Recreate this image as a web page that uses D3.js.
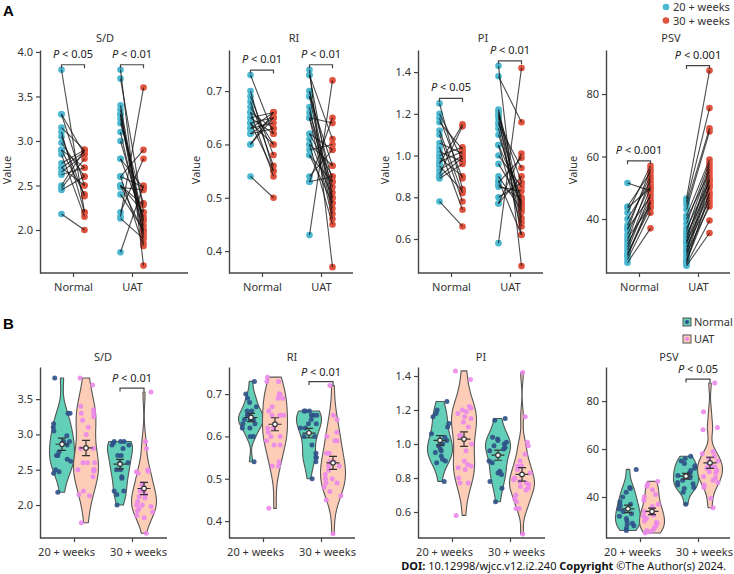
<!DOCTYPE html>
<html><head><meta charset="utf-8">
<script src="https://cdn.jsdelivr.net/npm/d3@7"></script>
<style>body{margin:0;background:#fff}svg{display:block}</style>
</head><body>
<svg id="c" width="734" height="574"></svg>
<script>
// ---------------- DATA ----------------
const metrics = ["S/D", "RI", "PI", "PSV"];
const groups = ["Normal", "UAT"];
const weeks = ["20 + weeks", "30 + weeks"];
const legendA = ["20 + weeks", "30 + weeks"];
const legendB = ["Normal", "UAT"];

// paired values (index i of 20-week array pairs with index i of 30-week array)
const sdNormal20 = [3.8, 3.3, 3.3, 3.15, 3.1, 3.05, 2.98, 2.9, 2.9, 2.85, 2.75, 2.7, 2.7, 2.65, 2.62, 2.5, 2.47, 2.45, 2.18];
const sdNormal30 = [2.2, 2.85, 2.5, 2.9, 2.2, 2.38, 2.6, 2.7, 2.4, 2.15, 2.9, 2.88, 2.5, 2.85, 2.7, 2.9, 2.8, 2.6, 2.0];
const sdUat20 = [3.8, 3.7, 3.4, 3.35, 3.3, 3.3, 3.25, 3.2, 3.1, 3.0, 2.8, 2.8, 2.6, 2.6, 2.5, 2.5, 2.5, 2.48, 2.4, 2.2, 2.15, 2.13, 2.6, 1.75];
const sdUat30 = [1.6, 2.2, 2.0, 1.92, 2.1, 1.85, 2.05, 2.3, 1.95, 2.12, 2.15, 2.47, 2.48, 2.9, 2.28, 2.2, 1.98, 2.45, 2.0, 2.8, 3.6, 1.9, 1.82, 2.5];

const riNormal20 = [0.73, 0.70, 0.69, 0.68, 0.67, 0.66, 0.66, 0.65, 0.65, 0.64, 0.64, 0.64, 0.63, 0.63, 0.62, 0.62, 0.60, 0.60, 0.54];
const riNormal30 = [0.62, 0.55, 0.58, 0.56, 0.60, 0.54, 0.63, 0.66, 0.62, 0.60, 0.65, 0.55, 0.66, 0.64, 0.65, 0.63, 0.66, 0.65, 0.50];
const riUat20 = [0.74, 0.73, 0.73, 0.70, 0.70, 0.69, 0.69, 0.67, 0.66, 0.65, 0.65, 0.65, 0.62, 0.62, 0.61, 0.60, 0.60, 0.59, 0.58, 0.58, 0.54, 0.53, 0.53, 0.43];
const riUat30 = [0.37, 0.61, 0.50, 0.49, 0.53, 0.48, 0.56, 0.47, 0.52, 0.64, 0.51, 0.46, 0.59, 0.54, 0.50, 0.45, 0.56, 0.60, 0.49, 0.53, 0.59, 0.54, 0.65, 0.72];

const piNormal20 = [1.25, 1.20, 1.18, 1.16, 1.12, 1.10, 1.06, 1.04, 1.02, 1.00, 0.99, 0.97, 0.96, 0.95, 0.93, 0.91, 0.90, 0.89, 0.78];
const piNormal30 = [0.84, 0.98, 0.89, 1.03, 0.82, 0.78, 1.01, 0.74, 0.97, 1.04, 0.90, 1.02, 1.15, 0.83, 1.00, 1.14, 0.99, 0.96, 0.66];
const piUat20 = [1.43, 1.38, 1.22, 1.21, 1.20, 1.19, 1.18, 1.16, 1.15, 1.13, 1.10, 1.05, 1.05, 1.00, 0.96, 0.90, 0.88, 0.87, 0.86, 0.85, 0.80, 0.77, 0.77, 0.58];
const piUat30 = [0.47, 1.16, 0.77, 0.70, 0.73, 0.87, 0.62, 0.75, 0.94, 0.68, 0.76, 0.66, 0.80, 0.85, 0.78, 0.74, 0.62, 0.99, 0.79, 0.83, 0.87, 1.01, 0.90, 1.42];

const psvNormal20 = [51.5, 44, 43.5, 42, 40, 38, 37, 36.5, 35, 34, 33, 32, 31, 30, 29, 28.5, 28, 27, 26];
const psvNormal30 = [49, 55, 50, 57, 52, 54, 47, 56, 51, 44, 53, 46, 50, 48, 43.5, 45.5, 45, 42, 37];
const psvUat20 = [46.5, 45.5, 44.5, 43, 41, 40, 38.5, 37, 36, 35, 34, 33, 32.5, 32, 31, 30, 29.5, 29, 28, 27, 26.5, 26, 25.5, 25];
const psvUat30 = [87.5, 75.5, 69, 68, 59, 55, 58, 52, 57, 50, 54, 56, 48, 53, 46, 52.5, 51, 44, 50.5, 47, 45, 48.5, 39.5, 35.5];

// tick labels
const ticksA_SD = [2.0, 2.5, 3.0, 3.5, 4.0];
const ticksA_RI = [0.4, 0.5, 0.6, 0.7];
const ticksA_PI = [0.6, 0.8, 1.0, 1.2, 1.4];
const ticksA_PSV = [40, 60, 80];
const ticksB_SD = [2.0, 2.5, 3.0, 3.5];
const ticksB_RI = [0.4, 0.5, 0.6, 0.7];
const ticksB_PI = [0.6, 0.8, 1.0, 1.2, 1.4];
const ticksB_PSV = [40, 60, 80];

// p-value labels
const pA_SD = ["0.05", "0.01"];
const pA_RI = ["0.01", "0.01"];
const pA_PI = ["0.05", "0.01"];
const pA_PSV = ["0.001", "0.001"];
const pB = [["30 + weeks", "0.01"], ["30 + weeks", "0.01"], null, ["30 + weeks", "0.05"]];

// ---------------- STYLE / LAYOUT ----------------
const FONT = '"Noto Sans","Open Sans","DejaVu Sans",sans-serif';
const C = { blue: "#4cb7d0", red: "#e0533f", teal: "#62d0b8", peach: "#fdcdb8",
  navy: "#2f5087", violet: "#eb88eb", axis: "#444", text: "#333" };
const data = {
  "S/D": { n20: sdNormal20, n30: sdNormal30, u20: sdUat20, u30: sdUat30 },
  "RI": { n20: riNormal20, n30: riNormal30, u20: riUat20, u30: riUat30 },
  "PI": { n20: piNormal20, n30: piNormal30, u20: piUat20, u30: piUat30 },
  "PSV": { n20: psvNormal20, n30: psvNormal30, u20: psvUat20, u30: psvUat30 }
};
const ticksA = [ticksA_SD, ticksA_RI, ticksA_PI, ticksA_PSV];
const ticksB = [ticksB_SD, ticksB_RI, ticksB_PI, ticksB_PSV];
const pA = [pA_SD, pA_RI, pA_PI, pA_PSV];
const fmts = [d3.format(".1f"), d3.format(".1f"), d3.format(".1f"), d3.format("d")];
const axisX = [40, 229, 418, 606];
const xEndA = [188, 353, 543, 730];
const xEndB = [167, 355, 545, 730];
const domA = [[1.517, 4.022], [0.359, 0.777], [0.437, 1.506], [22.7, 94.1]];
const domB = [[1.533, 3.955], [0.36, 0.764], [0.447, 1.453], [22.9, 94.2]];
const A = { top: 50, bottom: 273 }, B = { top: 367, bottom: 538 };

const svg = d3.select("#c").style("font-family", FONT);

function styleAxis(g) {
  g.selectAll(".domain").attr("stroke", C.axis).attr("stroke-width", 1.4);
  g.selectAll(".tick line").attr("stroke", C.axis).attr("stroke-width", 1.2);
  g.selectAll(".tick text").attr("fill", C.text).style("font-size", "11px").style("font-family", FONT);
}
function pLabel(g, x, y, val) {
  const t = g.append("text").attr("x", x).attr("y", y).attr("text-anchor", "middle")
    .attr("fill", "#222").style("font-size", "11px");
  t.append("tspan").style("font-style", "italic").text("P");
  t.append("tspan").text(" < " + val);
}
function bracket(g, x1, x2, y) {
  g.append("path").attr("d", `M${x1},${y + 3.5}V${y}H${x2}V${y + 3.5}`)
    .attr("fill", "none").attr("stroke", "#444").attr("stroke-width", 1.2);
}

// ---------------- PANEL A ----------------
svg.append("text").attr("x", 3).attr("y", 16).style("font-size", "15px").style("font-weight", "bold")
  .style("font-family", "Liberation Sans, Arial, sans-serif").text("A");

metrics.forEach((m, i) => {
  const g = svg.append("g");
  const ax = axisX[i];
  const y = d3.scaleLinear().domain(domA[i]).range([A.bottom, A.top]);
  const x = d3.scalePoint().domain(groups).range([ax + 33, ax + 92]);
  const ya = g.append("g").attr("transform", `translate(${ax},0)`)
    .call(d3.axisLeft(y).tickValues(ticksA[i]).tickFormat(fmts[i]).tickSize(4).tickPadding(3).tickSizeOuter(0));
  styleAxis(ya);
  const xa = g.append("g").attr("transform", `translate(0,${A.bottom})`)
    .call(d3.axisBottom(x).tickSize(4).tickPadding(6));
  xa.select(".domain").remove();
  styleAxis(xa);
  g.append("line").attr("x1", ax).attr("x2", xEndA[i]).attr("y1", A.bottom).attr("y2", A.bottom)
    .attr("stroke", C.axis).attr("stroke-width", 1.4);
  g.append("text").attr("x", ax + 65).attr("y", 42).attr("text-anchor", "middle")
    .attr("fill", C.text).style("font-size", "11px").text(m);
  g.append("text").attr("transform", `translate(${ax - 29},170) rotate(-90)`).attr("text-anchor", "middle")
    .attr("fill", C.text).style("font-size", "11px").text("Value");

  const d = data[m];
  [["n20", "n30"], ["u20", "u30"]].forEach(([a, b], gi) => {
    const cx = x(groups[gi]);
    const xa0 = cx - 11.5, xb0 = cx + 11.5;
    const pairs = d[a].map((v, k) => [v, d[b][k]]);
    g.append("g").selectAll("circle.b").data(d[a]).join("circle")
      .attr("cx", xa0).attr("cy", v => y(v)).attr("r", 3.3).attr("fill", C.blue);
    g.append("g").selectAll("circle.r").data(d[b]).join("circle")
      .attr("cx", xb0).attr("cy", v => y(v)).attr("r", 3.3).attr("fill", C.red);
    g.append("g").selectAll("line").data(pairs).join("line")
      .attr("x1", xa0).attr("x2", xb0).attr("y1", p => y(p[0])).attr("y2", p => y(p[1]))
      .attr("stroke", "#111").attr("stroke-opacity", 0.75).attr("stroke-width", 1.1);
    const top = y(d3.max(d[a].concat(d[b]))) - 5;
    bracket(g, xa0, xb0, top);
    pLabel(g, cx, top - 7, pA[i][gi]);
  });
});

// legend A
legendA.forEach((t, k) => {
  svg.append("circle").attr("cx", 666).attr("cy", 7 + k * 13.5).attr("r", 3.3).attr("fill", k ? C.red : C.blue);
  svg.append("text").attr("x", 673).attr("y", 11 + k * 13.5).attr("fill", C.text).style("font-size", "11px").text(t);
});

// ---------------- PANEL B ----------------
svg.append("text").attr("x", 3).attr("y", 329).style("font-size", "15px").style("font-weight", "bold")
  .style("font-family", "Liberation Sans, Arial, sans-serif").text("B");

function kde(vals, n) {
  const s = vals.slice().sort(d3.ascending);
  const sd = d3.deviation(s);
  const iqr = d3.quantile(s, 0.75) - d3.quantile(s, 0.25);
  const bw = 0.9 * Math.min(sd, iqr / 1.34) * Math.pow(s.length, -0.2);
  const lo = s[0], hi = s[s.length - 1];
  return d3.range(n + 1).map(j => {
    const v = lo + (hi - lo) * j / n;
    return [v, d3.mean(s, q => Math.exp(-0.5 * ((v - q) / bw) ** 2))];
  });
}
let seed = 12345;
function jit() { seed = (seed * 16807) % 2147483647; return (seed - 1) / 2147483646 - 0.5; }

metrics.forEach((m, i) => {
  const g = svg.append("g");
  const ax = axisX[i];
  const y = d3.scaleLinear().domain(domB[i]).range([B.bottom, B.top]);
  const x = d3.scalePoint().domain(weeks).range([ax + 34, ax + 92]);
  const ya = g.append("g").attr("transform", `translate(${ax},0)`)
    .call(d3.axisLeft(y).tickValues(ticksB[i]).tickFormat(fmts[i]).tickSize(4).tickPadding(3).tickSizeOuter(0));
  styleAxis(ya);
  const xa = g.append("g").attr("transform", `translate(0,${B.bottom})`)
    .call(d3.axisBottom(x).tickSize(4).tickPadding(6));
  xa.select(".domain").remove();
  styleAxis(xa);
  xa.selectAll(".tick text").attr("dx", (w, k) => (k === 0 ? -8 : 6));
  g.append("line").attr("x1", ax).attr("x2", xEndB[i]).attr("y1", B.bottom).attr("y2", B.bottom)
    .attr("stroke", C.axis).attr("stroke-width", 1.4);
  g.append("text").attr("x", ax + 63).attr("y", 361).attr("text-anchor", "middle")
    .attr("fill", C.text).style("font-size", "11px").text(m);

  const d = data[m];
  const sets = [
    { w: weeks[0], k: "n20", off: -12, fill: C.teal, pt: C.navy },
    { w: weeks[0], k: "u20", off: 12, fill: C.peach, pt: C.violet },
    { w: weeks[1], k: "n30", off: -12, fill: C.teal, pt: C.navy },
    { w: weeks[1], k: "u30", off: 12, fill: C.peach, pt: C.violet }
  ];
  sets.forEach(s => {
    const cx = x(s.w) + s.off;
    const vals = d[s.k];
    const dens = kde(vals, 120);
    const maxD = d3.max(dens, e => e[1]);
    const wS = d3.scaleLinear().domain([0, maxD]).range([0, 12.5]);
    const area = d3.area().y(e => y(e[0])).x0(e => cx - wS(e[1])).x1(e => cx + wS(e[1])).curve(d3.curveBasis);
    g.append("path").datum(dens).attr("d", area).attr("fill", s.fill)
      .attr("stroke", "#555").attr("stroke-width", 1.1).attr("stroke-linejoin", "round");
  });
  sets.forEach(s => {
    const cx = x(s.w) + s.off;
    g.append("g").selectAll("circle").data(d[s.k]).join("circle")
      .attr("cx", () => cx + jit() * 18).attr("cy", v => y(v)).attr("r", 2.5)
      .attr("fill", s.pt).attr("fill-opacity", 0.9);
  });
  sets.forEach(s => {
    const cx = x(s.w) + s.off;
    const vals = d[s.k];
    const mu = d3.mean(vals), se = d3.deviation(vals) / Math.sqrt(vals.length);
    const eg = g.append("g").attr("stroke", "#333").attr("stroke-width", 1.2).attr("fill", "none");
    eg.append("path").attr("d",
      `M${cx},${y(mu - se)}V${y(mu + se)}M${cx - 4},${y(mu + se)}H${cx + 4}M${cx - 4},${y(mu - se)}H${cx + 4}M${cx - 6.5},${y(mu)}H${cx + 6.5}`);
    eg.append("circle").attr("cx", cx).attr("cy", y(mu)).attr("r", 2.3).attr("fill", "#fff");
  });
  if (pB[i]) {
    const cx = x(pB[i][0]);
    const top = y(d3.max(d.n30.concat(d.u30))) - 4;
    bracket(g, cx - 12, cx + 12, top);
    pLabel(g, cx, top - 6, pB[i][1]);
  }
});

// legend B
legendB.forEach((t, k) => {
  const yy = 318 + k * 17;
  svg.append("rect").attr("x", 683).attr("y", yy).attr("width", 8).attr("height", 8)
    .attr("fill", k ? C.peach : C.teal).attr("stroke", "#555").attr("stroke-width", 1);
  svg.append("circle").attr("cx", 687).attr("cy", yy + 4).attr("r", 2).attr("fill", k ? C.violet : C.navy);
  svg.append("text").attr("x", 694).attr("y", yy + 8).attr("fill", C.text).style("font-size", "11px").text(t);
});

// footer
const ft = svg.append("text").attr("x", 726).attr("y", 570).attr("text-anchor", "end")
  .attr("fill", "#111").style("font-size", "11px");
ft.append("tspan").style("font-weight", "bold").text("DOI:");
ft.append("tspan").text(" 10.12998/wjcc.v12.i2.240  ");
ft.append("tspan").style("font-weight", "bold").text("Copyright");
ft.append("tspan").text(" ©The Author(s) 2024.");
</script>
</body></html>
